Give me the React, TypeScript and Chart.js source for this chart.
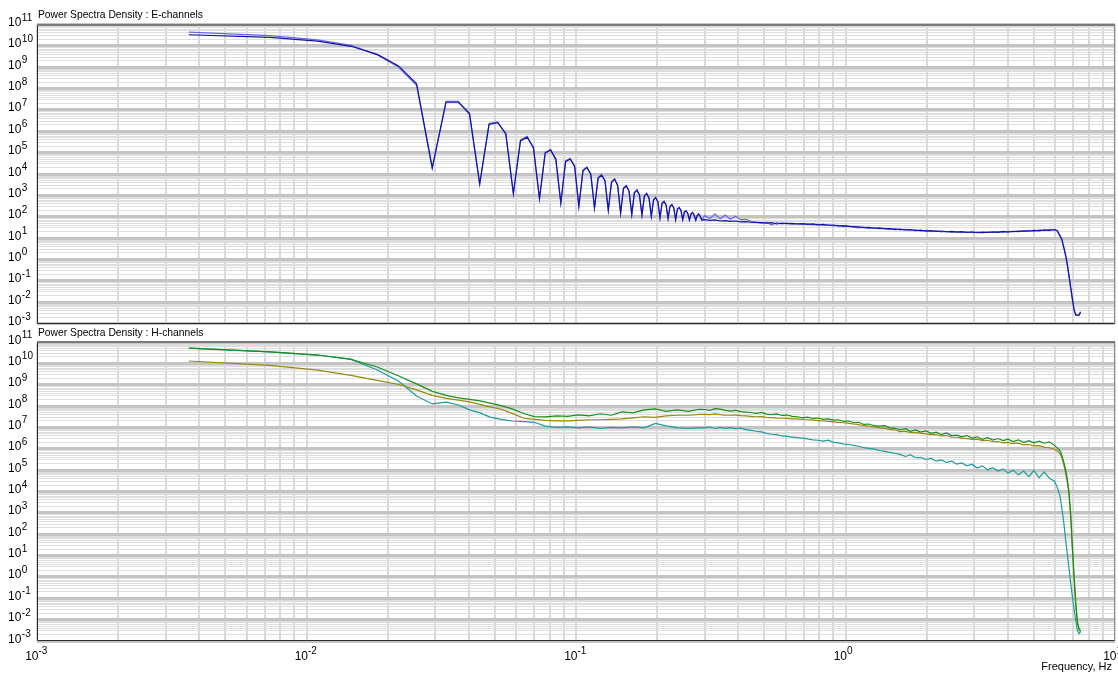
import { useEffect, useRef } from "react";
import { Chart, registerables } from "chart.js";

Chart.register(...registerables);

// ---------- data (PSD values stored as log10 exponents) ----------
const E_LOW_FREQ = [
  0.00366, 0.00732, 0.01098, 0.01464, 0.0183, 0.02196, 0.02562, 0.02928, 0.03294, 0.0366,
  0.04026, 0.04392, 0.04758, 0.05124, 0.0549, 0.05856, 0.06222, 0.06588, 0.06954, 0.0732,
  0.07686, 0.08052, 0.08418, 0.08784, 0.0915, 0.09516, 0.09882, 0.10248, 0.10614, 0.1098,
  0.11346, 0.11712, 0.12078, 0.12444, 0.1281, 0.13176, 0.13542, 0.13908, 0.14274, 0.1464,
  0.15006, 0.15372, 0.15738, 0.16104, 0.1647, 0.16836, 0.17202, 0.17568, 0.17934, 0.183,
  0.18666, 0.19032, 0.19398, 0.19764, 0.2013, 0.20496, 0.20862, 0.21228, 0.21594, 0.2196,
  0.22326, 0.22692, 0.23058, 0.23424, 0.2379, 0.24156, 0.24522, 0.24888, 0.25254, 0.2562,
  0.25986, 0.26352, 0.26718, 0.27084, 0.2745, 0.27816, 0.28182, 0.28548, 0.28914, 0.2928,
];

const E1_LOW_LOG = [
  10.52, 10.40, 10.22, 9.98, 9.60, 9.06, 8.22, 4.30, 7.36, 7.36, 6.84, 3.55,
  6.32, 6.40, 5.90, 3.10, 5.55, 5.72, 5.24, 2.86, 4.98, 5.12, 4.70, 2.65,
  4.58, 4.70, 4.38, 2.50, 4.15, 4.30, 4.00, 2.42, 3.80, 3.95, 3.70, 2.31,
  3.60, 3.75, 3.48, 2.18, 3.32, 3.44, 3.20, 2.11, 3.12, 3.24, 3.02, 2.08,
  2.96, 3.08, 2.88, 2.03, 2.78, 2.89, 2.70, 1.95, 2.62, 2.70, 2.55, 1.92,
  2.48, 2.55, 2.42, 1.87, 2.36, 2.42, 2.30, 1.87, 2.22, 2.26, 2.16, 1.86,
  2.12, 2.18, 2.08, 1.84, 2.05, 2.11, 2.02, 1.85,
];

const E2_LOW_LOG = [
  10.64, 10.48, 10.28, 10.02, 9.58, 9.00, 8.15, 4.25, 7.40, 7.40, 6.78, 3.50,
  6.36, 6.44, 5.84, 3.05, 5.60, 5.76, 5.18, 2.82, 5.02, 5.14, 4.64, 2.62,
  4.62, 4.72, 4.34, 2.47, 4.18, 4.33, 3.96, 2.40, 3.84, 3.98, 3.66, 2.28,
  3.64, 3.78, 3.45, 2.15, 3.35, 3.47, 3.16, 2.08, 3.15, 3.27, 2.98, 2.05,
  2.99, 3.10, 2.85, 2.00, 2.80, 2.92, 2.66, 1.93, 2.65, 2.74, 2.52, 1.90,
  2.50, 2.58, 2.39, 1.85, 2.38, 2.45, 2.27, 1.84, 2.25, 2.30, 2.14, 1.83,
  2.15, 2.21, 2.06, 1.82, 2.08, 2.14, 2.00, 1.83,
];

const HF_FREQ = [
  0.30, 0.314, 0.328, 0.343, 0.358, 0.374, 0.391, 0.409, 0.427, 0.446,
  0.466, 0.487, 0.509, 0.532, 0.556, 0.581, 0.607, 0.634, 0.663, 0.693,
  0.724, 0.756, 0.79, 0.826, 0.863, 0.902, 0.942, 0.985, 1.03, 1.07,
  1.12, 1.17, 1.22, 1.28, 1.34, 1.40, 1.46, 1.53, 1.59, 1.67,
  1.74, 1.82, 1.90, 1.99, 2.08, 2.17, 2.27, 2.37, 2.48, 2.59,
  2.70, 2.82, 2.95, 3.08, 3.22, 3.37, 3.52, 3.68, 3.84, 4.01,
  4.19, 4.38, 4.58, 4.79, 5.00, 5.23, 5.46, 5.71, 5.96, 6.10,
  6.25, 6.35, 6.45, 6.55, 6.65, 6.75, 6.85, 6.95, 7.05, 7.15,
  7.25, 7.35, 7.45,
];

const E1_HF_LOG = [
  1.86, 1.83, 1.85, 1.80, 1.82, 1.78, 1.80, 1.76, 1.77, 1.74,
  1.73, 1.72, 1.70, 1.72, 1.66, 1.70, 1.68, 1.69, 1.66, 1.68,
  1.64, 1.66, 1.62, 1.64, 1.60, 1.61, 1.57, 1.58, 1.55, 1.54,
  1.52, 1.49, 1.50, 1.46, 1.48, 1.43, 1.44, 1.40, 1.42, 1.38,
  1.40, 1.35, 1.37, 1.33, 1.35, 1.31, 1.33, 1.29, 1.31, 1.28,
  1.30, 1.26, 1.29, 1.25, 1.28, 1.26, 1.29, 1.27, 1.31, 1.28,
  1.32, 1.30, 1.34, 1.32, 1.36, 1.34, 1.38, 1.36, 1.40, 1.36,
  1.12, 0.95, 0.60, 0.25, -0.20, -0.75, -1.30, -1.85, -2.35, -2.58,
  -2.62, -2.60, -2.45,
];

const E2_HF_LOG = [
  2.05, 1.92, 2.12, 1.90, 2.08, 1.88, 2.02, 1.86, 1.88, 1.78,
  1.75, 1.70, 1.73, 1.62, 1.72, 1.66, 1.70, 1.65, 1.68, 1.64,
  1.67, 1.62, 1.64, 1.60, 1.62, 1.57, 1.59, 1.54, 1.56, 1.51,
  1.48, 1.51, 1.45, 1.49, 1.43, 1.46, 1.41, 1.44, 1.38, 1.41,
  1.36, 1.39, 1.33, 1.36, 1.30, 1.34, 1.29, 1.32, 1.27, 1.30,
  1.26, 1.29, 1.25, 1.28, 1.24, 1.29, 1.26, 1.30, 1.27, 1.32,
  1.29, 1.34, 1.31, 1.36, 1.33, 1.38, 1.35, 1.41, 1.37, 1.33,
  1.08, 0.90, 0.55, 0.18, -0.28, -0.82, -1.38, -1.92, -2.40, -2.62,
  -2.60, -2.63, -2.50,
];

const H_LOW_FREQ = [
  0.00366, 0.00732, 0.011, 0.0146, 0.0183, 0.022, 0.0256, 0.0293, 0.033, 0.0366,
  0.0403, 0.044, 0.048, 0.0527, 0.058, 0.064, 0.070, 0.077, 0.085, 0.093,
  0.102, 0.112, 0.123, 0.135, 0.148, 0.163, 0.179, 0.197, 0.216, 0.238,
  0.261, 0.287,
];

const HG_LOW_LOG = [
  10.71, 10.54, 10.39, 10.19, 9.83, 9.41, 9.04, 8.69, 8.50, 8.38,
  8.31, 8.24, 8.14, 8.02, 7.87, 7.65, 7.51, 7.49, 7.54, 7.52,
  7.59, 7.54, 7.64, 7.57, 7.73, 7.68, 7.82, 7.87, 7.75, 7.82,
  7.75, 7.85,
];

const HO_LOW_LOG = [
  10.11, 9.91, 9.68, 9.44, 9.20, 9.01, 8.76, 8.50, 8.36, 8.28,
  8.20, 8.08, 7.96, 7.85, 7.66, 7.43, 7.38, 7.33, 7.31, 7.31,
  7.33, 7.36, 7.36, 7.38, 7.40, 7.45, 7.50, 7.47, 7.54, 7.57,
  7.57, 7.61,
];

const HT_LOW_LOG = [
  10.71, 10.54, 10.39, 10.20, 9.69, 9.16, 8.47, 8.10, 8.18, 8.05,
  7.82, 7.68, 7.48, 7.38, 7.30, 7.27, 7.24, 7.06, 7.00, 7.03,
  6.98, 7.03, 6.96, 7.00, 6.98, 7.03, 6.98, 7.19, 7.07, 6.98,
  6.96, 6.98,
];

const HG_HF_LOG = [
  7.84, 7.80, 7.88, 7.86, 7.80, 7.76, 7.80, 7.74, 7.72, 7.70,
  7.66, 7.70, 7.62, 7.60, 7.63, 7.56, 7.58, 7.52, 7.50, 7.45,
  7.48, 7.42, 7.44, 7.38, 7.40, 7.34, 7.36, 7.28, 7.30, 7.22,
  7.24, 7.14, 7.16, 7.08, 7.06, 7.08, 6.98, 6.96, 6.88, 6.94,
  6.82, 6.88, 6.78, 6.84, 6.72, 6.78, 6.66, 6.74, 6.62, 6.64,
  6.56, 6.62, 6.50, 6.56, 6.44, 6.52, 6.41, 6.48, 6.38, 6.45,
  6.34, 6.42, 6.30, 6.38, 6.28, 6.36, 6.26, 6.32, 6.16, 6.04,
  5.90, 5.70, 5.40, 5.05, 4.60, 4.00, 2.90, 1.40, 0.05, -1.20,
  -2.10, -2.45, -2.56,
];

const HO_HF_LOG = [
  7.61, 7.60, 7.63, 7.60, 7.58, 7.57, 7.58, 7.55, 7.54, 7.52,
  7.50, 7.51, 7.47, 7.46, 7.44, 7.43, 7.42, 7.40, 7.40, 7.37,
  7.36, 7.34, 7.32, 7.30, 7.28, 7.26, 7.24, 7.22, 7.19, 7.16,
  7.13, 7.08, 7.06, 7.02, 6.98, 6.96, 6.91, 6.88, 6.80, 6.82,
  6.76, 6.77, 6.72, 6.70, 6.66, 6.66, 6.60, 6.62, 6.55, 6.54,
  6.50, 6.48, 6.44, 6.45, 6.38, 6.40, 6.33, 6.34, 6.28, 6.30,
  6.24, 6.26, 6.18, 6.20, 6.14, 6.15, 6.08, 6.05, 5.98, 5.90,
  5.78, 5.58, 5.28, 4.90, 4.45, 3.85, 2.80, 1.30, -0.10, -1.30,
  -2.10, -2.40, -2.50,
];

const HT_HF_LOG = [
  6.98, 7.02, 6.95, 7.00, 6.96, 6.99, 6.94, 6.97, 6.90, 6.86,
  6.82, 6.79, 6.72, 6.68, 6.66, 6.60, 6.58, 6.55, 6.52, 6.50,
  6.46, 6.42, 6.40, 6.36, 6.40, 6.30, 6.28, 6.22, 6.20, 6.16,
  6.12, 6.05, 6.02, 5.98, 5.92, 5.88, 5.83, 5.78, 5.74, 5.64,
  5.72, 5.58, 5.60, 5.50, 5.55, 5.42, 5.48, 5.36, 5.42, 5.28,
  5.34, 5.20, 5.28, 5.10, 5.20, 5.02, 5.12, 4.96, 5.06, 4.86,
  5.00, 4.78, 4.96, 4.70, 4.98, 4.64, 4.92, 4.62, 4.48, 4.20,
  3.80, 3.20, 2.60, 1.80, 1.10, 0.40, -0.30, -0.95, -1.50, -2.05,
  -2.50, -2.66, -2.58,
];

const X_EXPONENTS = [-3, -2, -1, 0, 1];
const Y_EXPONENTS = [-3, -2, -1, 0, 1, 2, 3, 4, 5, 6, 7, 8, 9, 10, 11];

const TITLE_E = "Power Spectra Density : E-channels";
const TITLE_H = "Power Spectra Density : H-channels";
const X_TITLE = "Frequency, Hz";

// ---------- helpers ----------
const FONT = '"Liberation Sans", Arial, sans-serif';

function points(freqs: number[], logs: number[]) {
  return freqs.map((f, i) => ({ x: f, y: Math.pow(10, logs[i]) }));
}

function decadeTicks(lo: number, hi: number) {
  const t: any[] = [];
  for (let e = lo; e < hi; e++) {
    for (let m = 1; m <= 9; m++) {
      t.push({ value: m * Math.pow(10, e), major: m === 1 });
    }
  }
  t.push({ value: Math.pow(10, hi), major: true });
  return t;
}

function isMajor(c: any) {
  const v = c && c.tick ? c.tick.value : 0;
  if (!v) return false;
  const l = Math.log10(v);
  return Math.abs(l - Math.round(l)) < 1e-6;
}

function decorPlugin(title: string, showX: boolean) {
  return {
    id: "decor",
    afterDraw(chart: any) {
      const { ctx, chartArea: a, scales } = chart;
      const xs = scales.x;
      const ys = scales.y;
      ctx.save();
      // frame
      const L = Math.round(a.left) + 0.5;
      const R = Math.round(a.right) - 0.5;
      const T = Math.round(a.top);
      const B = Math.round(a.bottom) - 0.5;
      ctx.lineWidth = 1;
      ctx.strokeStyle = "#8c8c8c";
      ctx.beginPath();
      ctx.moveTo(R, T);
      ctx.lineTo(R, B);
      ctx.stroke();
      ctx.strokeStyle = "#2a2a2a";
      ctx.beginPath();
      ctx.moveTo(L, T);
      ctx.lineTo(L, B);
      ctx.lineTo(R, B);
      ctx.stroke();
      ctx.lineWidth = 2;
      ctx.strokeStyle = "#7a7a7a";
      ctx.beginPath();
      ctx.moveTo(L - 0.5, T);
      ctx.lineTo(R + 0.5, T);
      ctx.stroke();

      // title
      ctx.fillStyle = "#000";
      ctx.textBaseline = "alphabetic";
      ctx.textAlign = "left";
      ctx.font = `10.3px ${FONT}`;
      ctx.fillText(title, a.left + 1, a.top - 6.5);

      // y tick labels 10^n
      for (const e of Y_EXPONENTS) {
        const y = ys.getPixelForValue(Math.pow(10, e));
        ctx.font = `12px ${FONT}`;
        ctx.textAlign = "left";
        ctx.fillText("10", 8, y + 1.5);
        const w = ctx.measureText("10").width;
        ctx.font = `10px ${FONT}`;
        ctx.fillText(String(e), 8 + w + 0.5, y - 4);
      }

      if (showX) {
        for (const e of X_EXPONENTS) {
          const x = xs.getPixelForValue(Math.pow(10, e));
          ctx.font = `12px ${FONT}`;
          ctx.textAlign = "right";
          ctx.fillText("10", x + 1.5, a.bottom + 19);
          ctx.font = `10px ${FONT}`;
          ctx.textAlign = "left";
          ctx.fillText(String(e), x + 1.5, a.bottom + 13);
        }
        ctx.font = `11px ${FONT}`;
        ctx.textAlign = "right";
        ctx.fillText(X_TITLE, 1112, a.bottom + 29);
      }
      ctx.restore();
    },
  };
}

function panelConfig(datasets: any[], title: string, showX: boolean, padding: any) {
  return {
    type: "line",
    data: { datasets },
    options: {
      responsive: false,
      animation: false,
      events: [],
      parsing: false,
      normalized: true,
      layout: { padding },
      plugins: { legend: { display: false }, tooltip: { enabled: false } },
      elements: {
        point: { radius: 0 },
        line: { tension: 0, borderWidth: 1.2, fill: false },
      },
      scales: {
        x: {
          type: "logarithmic",
          min: 1e-3,
          max: 10,
          border: { display: false },
          ticks: { display: false, autoSkip: false },
          grid: { color: "#d8d8d8", lineWidth: 2, drawTicks: false },
          afterBuildTicks: (s: any) => {
            s.ticks = decadeTicks(-3, 1);
          },
        },
        y: {
          type: "logarithmic",
          min: 1e-3,
          max: 1e11,
          border: { display: false },
          ticks: { display: false, autoSkip: false },
          grid: {
            color: (c: any) => (isMajor(c) ? "#c4c4c4" : "#dedede"),
            lineWidth: (c: any) => (isMajor(c) ? 3 : 1),
            drawTicks: false,
          },
          afterBuildTicks: (s: any) => {
            s.ticks = decadeTicks(-3, 11);
          },
        },
      },
    },
    plugins: [decorPlugin(title, showX)],
  };
}

export default function App() {
  const topRef = useRef<HTMLCanvasElement | null>(null);
  const botRef = useRef<HTMLCanvasElement | null>(null);

  useEffect(() => {
    const eFreq = [...E_LOW_FREQ, ...HF_FREQ];
    const hFreq = [...H_LOW_FREQ, ...HF_FREQ];
    const topSets = [
      { data: points(eFreq, [...E1_LOW_LOG, ...E1_HF_LOG]), borderColor: "#1212a6", order: 0 },
      { data: points(eFreq, [...E2_LOW_LOG, ...E2_HF_LOG]), borderColor: "#6868e8", order: 1 },
    ];
    const botSets = [
      { data: points(hFreq, [...HG_LOW_LOG, ...HG_HF_LOG]), borderColor: "#16901a", order: 0 },
      { data: points(hFreq, [...HO_LOW_LOG, ...HO_HF_LOG]), borderColor: "#968a0c", order: 1 },
      { data: points(hFreq, [...HT_LOW_LOG, ...HT_HF_LOG]), borderColor: "#1c9c9c", order: 2 },
    ];
    const c1 = new Chart(
      topRef.current as HTMLCanvasElement,
      panelConfig(topSets, TITLE_E, false, { left: 37, right: 3, top: 24.5, bottom: 11.5 }) as any
    );
    const c2 = new Chart(
      botRef.current as HTMLCanvasElement,
      panelConfig(botSets, TITLE_H, true, { left: 37, right: 3, top: 27, bottom: 34 }) as any
    );
    return () => {
      c1.destroy();
      c2.destroy();
    };
  }, []);

  return (
    <div
      style={{
        position: "fixed",
        left: 0,
        top: 0,
        width: 1118,
        height: 675,
        background: "#ffffff",
        overflow: "hidden",
      }}
    >
      <canvas
        ref={topRef}
        width={1118}
        height={335}
        style={{ position: "absolute", left: 0, top: 0, width: 1118, height: 335 }}
      />
      <canvas
        ref={botRef}
        width={1118}
        height={360}
        style={{ position: "absolute", left: 0, top: 315, width: 1118, height: 360 }}
      />
    </div>
  );
}
